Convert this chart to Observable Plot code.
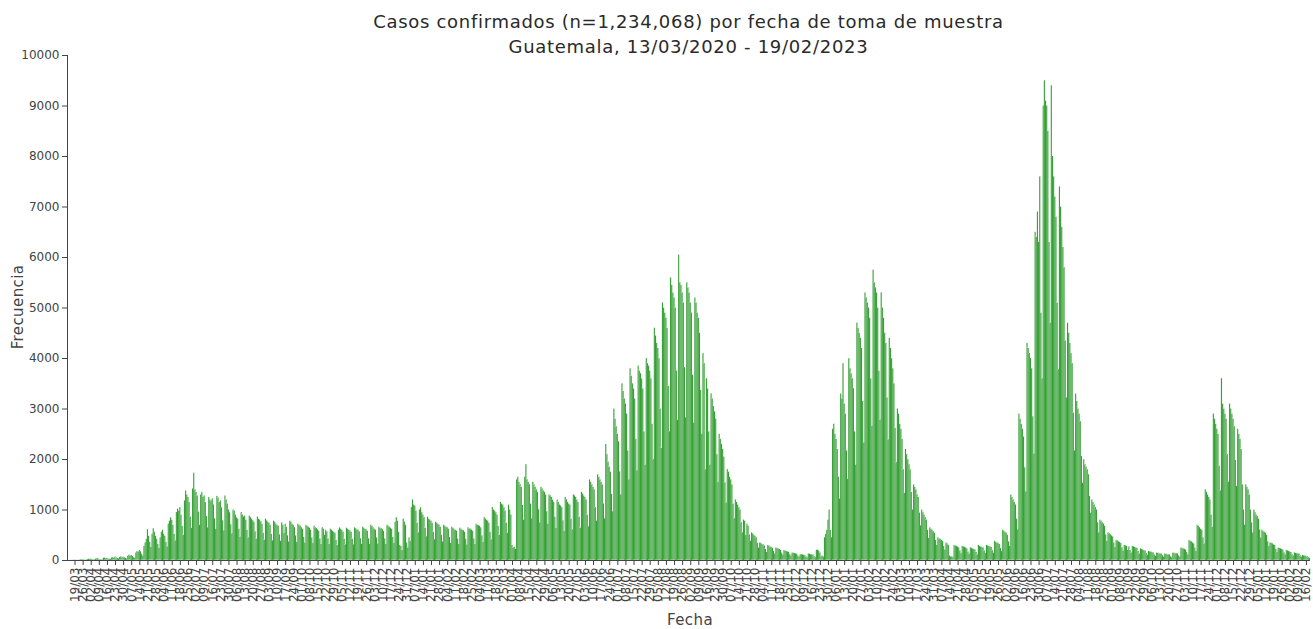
<!DOCTYPE html>
<html lang="es">
<head>
<meta charset="utf-8">
<script src="https://cdn.jsdelivr.net/npm/d3@7"></script>
<script src="https://cdn.jsdelivr.net/npm/@observablehq/plot@0.6"></script>
<style>
  html, body { margin: 0; padding: 0; background: #fff; }
  #chart { position: relative; width: 1313px; height: 629px; font-family: "DejaVu Sans", Verdana, sans-serif; color: #444; }
  #chart svg { position: absolute; left: 0; top: 0; }
  .titulo { position: absolute; left: 67px; width: 1243px; text-align: center; font-size: 18px; letter-spacing: 0.7px; color: #2a2a2a; white-space: nowrap; }
  .eje { position: absolute; font-size: 15px; letter-spacing: 0.4px; color: #444; white-space: nowrap; }
</style>
</head>
<body>
<div id="chart">
  <div class="titulo" style="top:9px;line-height:26px;">Casos confirmados (n=1,234,068) por fecha de toma de muestra</div>
  <div class="titulo" style="top:34px;line-height:26px;">Guatemala, 13/03/2020 - 19/02/2023</div>
  <div class="eje" style="left:690px;top:620px;transform:translate(-50%,-50%);">Fecha</div>
  <div class="eje" style="left:18px;top:307px;transform:translate(-50%,-50%) rotate(-90deg);">Frecuencia</div>
</div>
<script>
// Primer día de la serie (viernes 13/03/2020)
const inicio = new Date(Date.UTC(2020, 2, 13));

// Casos diarios por fecha de toma de muestra: primeros tres días (vie–dom)
// y después una fila por semana, de lunes a domingo.
const casos = [
  1, 0, 2,
  3, 2, 5, 4, 6, 3, 2,
  8, 12, 10, 15, 9, 7, 5,
  18, 25, 22, 30, 20, 15, 11,
  28, 35, 40, 26, 15, 12, 10,
  45, 50, 38, 42, 35, 26, 20,
  55, 60, 48, 70, 52, 40, 30,
  62, 75, 58, 65, 55, 42, 32,
  85, 110, 95, 100, 80, 60, 45,
  150, 180, 165, 200, 170, 125, 90,
  280, 350, 420, 610, 480, 360, 260,
  520, 630, 560, 480, 420, 320, 240,
  450, 560, 600, 520, 480, 360, 270,
  720, 780, 850, 800, 700, 520, 390,
  950, 1020, 980, 1050, 900, 680, 500,
  1180, 1380, 1300, 1250, 1150, 860, 640,
  1420, 1730, 1400, 1350, 1280, 960, 700,
  1300, 1350, 1250, 1280, 1150, 870, 650,
  1250, 1200, 1180, 1220, 1100, 830, 620,
  1270, 1240, 1150, 1180, 1050, 790, 590,
  1280, 1200, 1120, 1000, 950, 710, 530,
  1000, 980, 900, 850, 820, 620, 460,
  950, 900, 860, 880, 800, 600, 450,
  880, 850, 820, 790, 760, 570, 420,
  860, 820, 800, 770, 720, 540, 400,
  820, 790, 760, 740, 700, 520, 390,
  780, 760, 720, 700, 680, 510, 380,
  750, 700, 540, 720, 660, 490, 370,
  780, 760, 720, 700, 650, 490, 360,
  720, 700, 680, 650, 620, 460, 350,
  700, 680, 660, 640, 600, 450, 340,
  680, 650, 630, 610, 580, 430, 320,
  650, 620, 500, 600, 570, 430, 320,
  620, 600, 580, 560, 540, 400, 300,
  600, 650, 620, 600, 560, 420, 310,
  640, 620, 600, 590, 560, 420, 310,
  650, 630, 610, 600, 570, 430, 320,
  660, 640, 620, 610, 580, 430, 320,
  700, 680, 650, 620, 600, 450, 330,
  660, 640, 630, 610, 580, 430, 320,
  700, 680, 660, 640, 620, 460, 340,
  760, 850, 780, 560, 300, 280, 200,
  820, 760, 700, 350, 250, 450, 380,
  1050, 1200, 1100, 1080, 980, 740, 550,
  1000, 1050, 950, 900, 850, 640, 470,
  860, 820, 800, 780, 740, 560, 410,
  760, 740, 720, 700, 660, 500, 370,
  700, 680, 660, 650, 620, 460, 340,
  660, 640, 620, 600, 580, 430, 320,
  640, 620, 600, 590, 560, 420, 310,
  650, 630, 620, 600, 580, 430, 320,
  720, 700, 690, 680, 650, 490, 360,
  850, 820, 800, 780, 740, 560, 410,
  1050, 1000, 980, 950, 900, 680, 500,
  1150, 1120, 1100, 1050, 980, 740, 540,
  1100, 1000, 900, 300, 250, 260, 220,
  1600, 1650, 1550, 1500, 1450, 1090, 800,
  1650, 1900, 1600, 1550, 1500, 1120, 830,
  1550, 1500, 1450, 1400, 1350, 1010, 750,
  1450, 1420, 1380, 1350, 1300, 970, 720,
  1300, 1280, 1250, 1200, 1150, 860, 640,
  1200, 1150, 1100, 1080, 1050, 790, 580,
  1250, 1200, 1150, 1120, 1100, 820, 610,
  1300, 1280, 1250, 1200, 1150, 860, 640,
  1350, 1320, 1280, 1250, 1200, 900, 670,
  1600, 1550, 1500, 1450, 1400, 1050, 780,
  1700, 1650, 1600, 1550, 1500, 1120, 830,
  2300, 2100, 1950, 1850, 1750, 1310, 970,
  3000, 2800, 2650, 2500, 2350, 1760, 1300,
  3500, 3350, 3200, 3100, 2900, 2170, 1600,
  3800, 3650, 3500, 3400, 3200, 2400, 1780,
  3850, 3750, 3700, 3600, 3400, 2550, 1890,
  4000, 3900, 3850, 3750, 3600, 2700, 2000,
  4600, 4450, 4300, 4200, 4000, 3000, 2220,
  5100, 5000, 4900, 4800, 4600, 3450, 2550,
  5600, 5450, 5300, 5200, 5000, 3750, 2780,
  6050, 5500, 5450, 5300, 5100, 3820, 2830,
  5500, 5400, 5300, 5100, 4900, 3670, 2720,
  5200, 5100, 4900, 4800, 4500, 3370, 2500,
  4100, 3900, 1800, 3600, 3400, 2550, 1890,
  3300, 3200, 3050, 2950, 2800, 2100, 1550,
  2500, 2400, 2300, 2200, 2050, 1540, 1140,
  1800, 1750, 1650, 1600, 1500, 1120, 830,
  1200, 1150, 1100, 1050, 1000, 750, 550,
  800, 780, 500, 720, 680, 510, 380,
  550, 530, 500, 480, 450, 340, 250,
  350, 340, 320, 310, 290, 220, 160,
  300, 290, 270, 260, 240, 180, 130,
  250, 240, 230, 220, 200, 150, 110,
  200, 190, 180, 170, 160, 120, 90,
  150, 145, 140, 135, 125, 95, 70,
  120, 115, 110, 105, 100, 75, 55,
  130, 125, 120, 115, 110, 80, 60,
  200, 210, 190, 150, 80, 90, 70,
  450, 520, 600, 800, 1000, 600, 450,
  2600, 2700, 2500, 2400, 2200, 1650, 1220,
  3300, 3200, 3900, 3100, 2900, 2170, 1610,
  4000, 3800, 3700, 3600, 3400, 2550, 1890,
  4700, 4600, 4500, 4400, 4200, 3150, 2330,
  5300, 5200, 5100, 5000, 4800, 3600, 2660,
  5750, 5500, 5400, 5300, 5000, 3750, 2780,
  5300, 5000, 4800, 4500, 4300, 3220, 2390,
  4400, 4200, 4000, 3800, 3500, 2620, 1940,
  3000, 2900, 2700, 2600, 2400, 1800, 1330,
  2200, 2100, 2000, 1900, 1800, 1350, 1000,
  1500, 1450, 1400, 1300, 1250, 940, 690,
  1000, 950, 900, 850, 800, 600, 440,
  650, 620, 600, 570, 540, 400, 300,
  450, 430, 420, 400, 380, 280, 210,
  350, 330, 300, 90, 70, 80, 60,
  300, 290, 280, 270, 250, 190, 140,
  280, 270, 260, 250, 230, 170, 130,
  250, 240, 230, 220, 210, 160, 115,
  300, 280, 270, 260, 250, 190, 140,
  300, 290, 280, 270, 260, 195, 145,
  380, 360, 350, 340, 320, 240, 180,
  600, 580, 560, 540, 500, 375, 280,
  1300, 1250, 1200, 1150, 1100, 820, 610,
  2900, 2800, 2700, 2600, 2450, 1840, 1360,
  4300, 4200, 4100, 4000, 3800, 2850, 2110,
  6500, 6400, 6900, 6300, 7600, 4900, 3600,
  9000, 9500, 9100, 9000, 8500, 6300, 4700,
  9400, 8000, 7600, 7200, 6800, 5100, 3780,
  7400, 7000, 6600, 6200, 5800, 4350, 3220,
  4700, 4500, 4300, 4100, 3900, 2920, 2170,
  3300, 3150, 3000, 2900, 2750, 2060, 1530,
  2000, 1900, 1850, 1800, 1700, 1270, 940,
  1200, 1150, 1100, 1050, 1000, 750, 550,
  800, 780, 750, 720, 680, 510, 380,
  550, 530, 510, 490, 470, 350, 260,
  400, 390, 370, 360, 340, 255, 190,
  300, 290, 280, 200, 270, 200, 150,
  280, 270, 260, 250, 240, 180, 130,
  230, 220, 210, 200, 190, 140, 105,
  180, 175, 170, 160, 150, 110, 85,
  150, 145, 140, 135, 125, 95, 70,
  130, 125, 120, 115, 110, 80, 60,
  150, 145, 140, 135, 130, 95, 70,
  250, 240, 230, 220, 210, 160, 115,
  400, 380, 370, 350, 330, 250, 180,
  700, 680, 650, 620, 600, 450, 330,
  1400, 1350, 1300, 1250, 1200, 900, 660,
  2900, 2800, 2700, 2600, 2500, 1870, 1380,
  3600, 3100, 3000, 2900, 2800, 2100, 1550,
  3100, 3000, 2900, 2800, 2650, 1980, 1470,
  2600, 2500, 2400, 2200, 1500, 1000, 700,
  1500, 1450, 1400, 1300, 1000, 750, 550,
  1000, 950, 900, 870, 820, 610, 450,
  600, 580, 560, 540, 500, 375, 280,
  350, 340, 330, 310, 300, 225, 165,
  250, 240, 230, 220, 210, 155, 115,
  200, 190, 180, 170, 160, 120, 90,
  150, 145, 140, 135, 130, 95, 70,
  100, 95, 90, 85, 80, 60, 45
];

// Marcas del eje X: cada jueves desde el 19/03/2020
const primeraMarca = new Date(Date.UTC(2020, 2, 19));
const numMarcas = 153;

// Marcas del eje Y
const marcasY = d3.range(0, 10001, 1000);

const datos = casos.map((v, i) => {
  const fecha = d3.utcDay.offset(inicio, i);
  return { fecha, fin: d3.utcDay.offset(fecha, 1), casos: v };
});
const fechaFin = d3.utcDay.offset(inicio, casos.length);
const medioDia = 12 * 3600 * 1000;
const marcasX = d3.range(numMarcas).map(k => new Date(+d3.utcDay.offset(primeraMarca, 7 * k) + medioDia));

const grafico = Plot.plot({
  width: 1313,
  height: 629,
  marginTop: 55,
  marginBottom: 69,
  marginLeft: 67,
  marginRight: 3,
  style: { fontFamily: "DejaVu Sans, Verdana, sans-serif", background: "transparent", overflow: "visible" },
  x: { type: "utc", domain: [inicio, fechaFin] },
  y: { domain: [0, 10000] },
  marks: [
    Plot.rectY(datos, { x1: "fecha", x2: "fin", y: "casos", fill: "#35a035", stroke: "#ffffff", strokeWidth: 0.15, strokeOpacity: 0.35 }),
    Plot.ruleY([0], { stroke: "#444", strokeWidth: 1 }),
    Plot.ruleX([inicio], { y1: 0, y2: 10000, stroke: "#444", strokeWidth: 1 }),
    Plot.axisX({
      ticks: marcasX,
      tickFormat: d3.utcFormat("%d/%m"),
      tickRotate: -90,
      tickSize: 5,
      tickPadding: 2,
      fontSize: 12,
      color: "#444",
      label: null
    }),
    Plot.axisY({
      ticks: marcasY,
      tickFormat: d => String(d),
      tickSize: 5,
      tickPadding: 3,
      fontSize: 12,
      color: "#444",
      label: null
    })
  ]
});
document.getElementById("chart").prepend(grafico);
</script>
</body>
</html>
